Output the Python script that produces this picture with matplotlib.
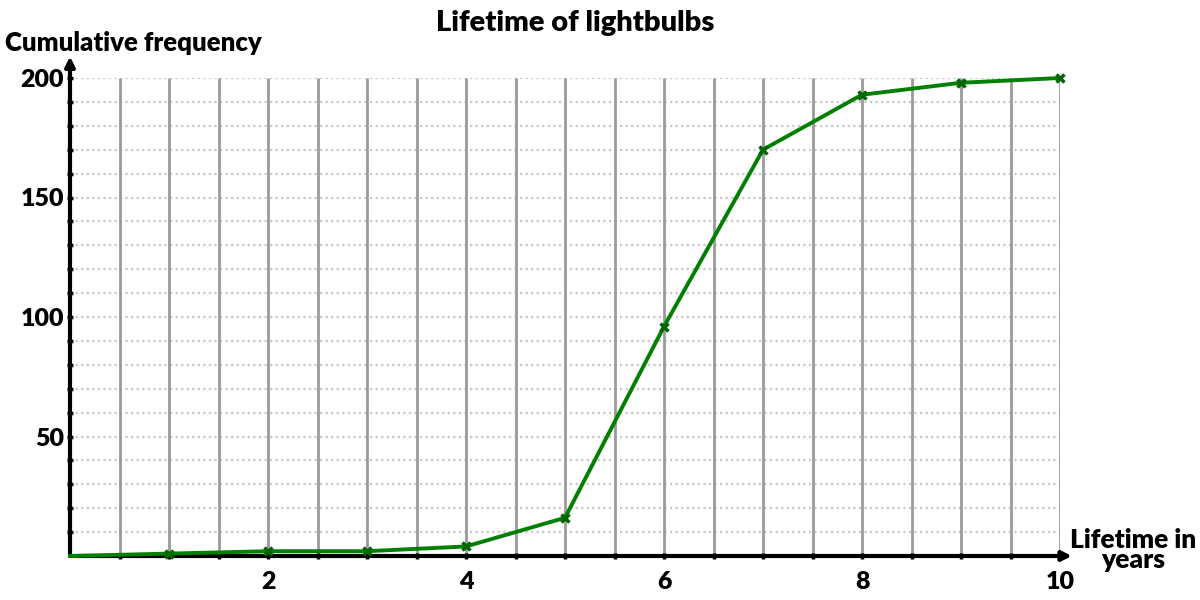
import matplotlib
matplotlib.use("Agg")
import matplotlib.pyplot as plt
import numpy as np

plt.rcParams['font.family'] = ['Lato', 'DejaVu Sans']
plt.rcParams['font.weight'] = 'bold'

years = [0, 1, 2, 3, 4, 5, 6, 7, 8, 9, 10]
cum_freq = [0, 1, 2, 2, 4, 16, 96, 170, 193, 198, 200]
x_ticks = [2, 4, 6, 8, 10]
y_ticks = [50, 100, 150, 200]
title = "Lifetime of lightbulbs"
y_label = "Cumulative frequency"
x_label = "Lifetime in\nyears"

fig = plt.figure(figsize=(12, 6), dpi=100)
ax = fig.add_axes([70/1200, 44/600, 990/1200, 478/600])
ax.set_xlim(0, 10)
ax.set_ylim(0, 200)

# grid
ax.vlines(np.arange(0.5, 10.01, 0.5), 0, 200, colors='#9a9a9a', lw=2, zorder=1)
ax.hlines(np.arange(10, 200.1, 10), 0, 10, colors='#c8c8c8', lw=1.6,
          linestyles=(0, (1, 1.5)), zorder=0.5)

for s in ax.spines.values():
    s.set_visible(False)

# axes with arrows
ax.annotate('', xy=(0, 1.045), xytext=(0, 0), xycoords='axes fraction',
            arrowprops=dict(arrowstyle='-|>', lw=3, color='black', mutation_scale=14,
                            shrinkA=0, shrinkB=0), zorder=5)
ax.annotate('', xy=(1.012, 0), xytext=(0, 0), xycoords='axes fraction',
            arrowprops=dict(arrowstyle='-|>', lw=3, color='black', mutation_scale=14,
                            shrinkA=0, shrinkB=0), zorder=5)

ax.set_xticks(x_ticks)
ax.set_xticklabels([str(v) for v in x_ticks], fontsize=18, fontweight='heavy')
ax.set_yticks(y_ticks)
ax.set_yticklabels([str(v) for v in y_ticks], fontsize=18, fontweight='heavy')
ax.set_xticks(np.arange(0.5, 10.01, 0.5), minor=True)
ax.set_yticks(np.arange(10, 200.1, 10), minor=True)
ax.tick_params(which='both', direction='inout', length=5, width=2.5, color='black')
ax.tick_params(axis='x', which='major', pad=8)
ax.tick_params(axis='y', which='major', pad=2)

ax.plot(years, cum_freq, color='#008000', lw=2.8, marker='x', markersize=6,
        markeredgewidth=2.5, markeredgecolor='#006400', markevery=list(range(1, len(years))),
        clip_on=False, zorder=6)

fig.text(575/1200, 1 - 23/600, title, ha='center', va='center', fontsize=21, fontweight='heavy')
fig.text(5/1200, 1 - 43/600, y_label, ha='left', va='center', fontsize=18.5, fontweight='heavy')
fig.text(1133/1200, 1 - 550/600, x_label, ha='center', va='center', fontsize=19,
         fontweight='heavy', linespacing=0.85)

fig.savefig('out.png', dpi=100)
